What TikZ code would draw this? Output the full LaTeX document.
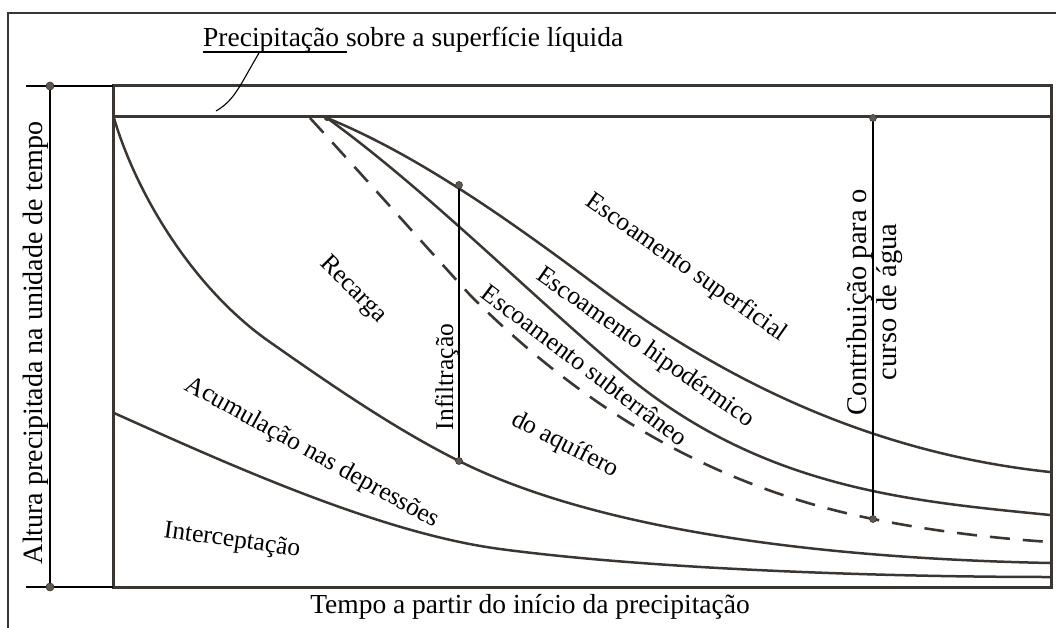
\documentclass[tikz,border=0pt]{standalone}
\usepackage{fontspec}
\setmainfont{Liberation Serif}
\definecolor{linec}{HTML}{3B3632}
\definecolor{dotc}{HTML}{5E5852}
\begin{document}
\begin{tikzpicture}[x=1pt,y=-1pt,
  box/.style={line width=3pt, draw=linec},
  curve/.style={line width=2.5pt, draw=linec, line cap=round},
  dashcurve/.style={line width=2.6pt, draw=linec, dash pattern=on 20pt off 13pt},
  thinline/.style={line width=1.1pt, draw=black},
  dimdot/.style={fill=dotc, draw=linec, line width=0.6pt},
  lbl/.style={font=\fontsize{25.5}{30}\selectfont, inner sep=0pt},
  hlbl/.style={font=\fontsize{27.5}{30}\selectfont, inner sep=0pt},
  vlbl/.style={font=\fontsize{28}{30}\selectfont, inner sep=0pt, rotate=90}]
\useasboundingbox (0,0) rectangle (1056,628);
% outer thin frame
\draw[line width=1.3pt, draw=linec] (8,640) -- (8,13) -- (1070,13);
% main box
\draw[box] (113,86) rectangle (1051,587);
\draw[box] (113,117) -- (1051,117);
% extension lines and height dimension
\coordinate (hTop) at (50,86);
\coordinate (hBot) at (50,587);
\draw[thinline] (26,86) -- (113,86);
\draw[thinline] (26,587) -- (113,587);
\draw[thinline] (hTop) -- (hBot);
\fill[dimdot] (hTop) circle (4pt);
\fill[dimdot] (hBot) circle (4pt);
% curves
% surface runoff boundary
\draw[curve] (327,118) .. controls (418,155) and (512,222) .. (600,288)
                       .. controls (750,400) and (900,456) .. (1050,472);
% subsurface (hipodermico) boundary
\draw[curve] (327,118) .. controls (425,189) and (522,287) .. (620,370)
                       .. controls (760,489) and (910,501) .. (1050,515);
% groundwater (dashed)
\draw[dashcurve] (310,118) .. controls (365,178) and (420,240) .. (470,295)
                           .. controls (604,429) and (739,492) .. (873,519)
                           .. controls (932,531) and (991,538) .. (1050,542);
% depression storage boundary
\draw[curve] (114,118) .. controls (135,190) and (190,285) .. (267,340)
                       .. controls (331,385) and (395,429) .. (459,461)
                       .. controls (609,536) and (850,559) .. (1050,563);
% interception boundary
\draw[curve] (114,413) .. controls (230,465) and (380,533) .. (500,549)
                       .. controls (650,569) and (880,577) .. (1050,577);
\fill[linec] (327,118) circle (3pt);
% infiltration dimension
\coordinate (iTop) at (459,185);
\coordinate (iBot) at (459,461);
\draw[thinline] (iTop) -- (iBot);
\fill[dimdot] (iTop) circle (3.5pt);
\fill[dimdot] (iBot) circle (3.5pt);
% contribution dimension
\coordinate (cTop) at (873,118);
\coordinate (cBot) at (873,519);
\draw[thinline] (cTop) -- (cBot);
\fill[dimdot] (cTop) circle (3.5pt);
\fill[dimdot] (cBot) circle (3.5pt);
% top label with underline and leader
\node[hlbl, anchor=base west] (ptop) at (203,47) {Precipitação sobre a superfície líquida};
\coordinate (uL) at (203,52);
\coordinate (uR) at (347,52);
\coordinate (lead) at (216,111);
\draw[thinline] (uL) -- (uR);
\draw[thinline] (259,53) .. controls (240,85) and (235,100) .. (lead);
% labels
\node[vlbl, anchor=base] (alt) at (42,343) {Altura precipitada na unidade de tempo};
\node[hlbl, anchor=base] (tempo) at (530,613) {Tempo a partir do início da precipitação};
\node[lbl, rotate=-8] (inter) at (232,541) {Interceptação};
\node[lbl, rotate=-29] (acum) at (312,453) {Acumulação nas depressões};
\node[lbl, rotate=-45] (rec) at (353,290) {Recarga};
\node[lbl, rotate=90, anchor=base] (inf) at (453,377) {Infiltração};
\node[lbl, rotate=-37] (sub) at (585,365) {Escoamento subterrâneo};
\node[lbl, rotate=-27] (aq) at (565,445) {do aquífero};
\node[lbl, rotate=-35] (hip) at (645,348) {Escoamento hipodérmico};
\node[lbl, rotate=-35] (sup) at (686,268) {Escoamento superficial};
\node[vlbl, align=center, font=\fontsize{28.5}{30}\selectfont] (contr) at (875,302) {Contribuição para o\\curso de água};
\end{tikzpicture}
\end{document}
